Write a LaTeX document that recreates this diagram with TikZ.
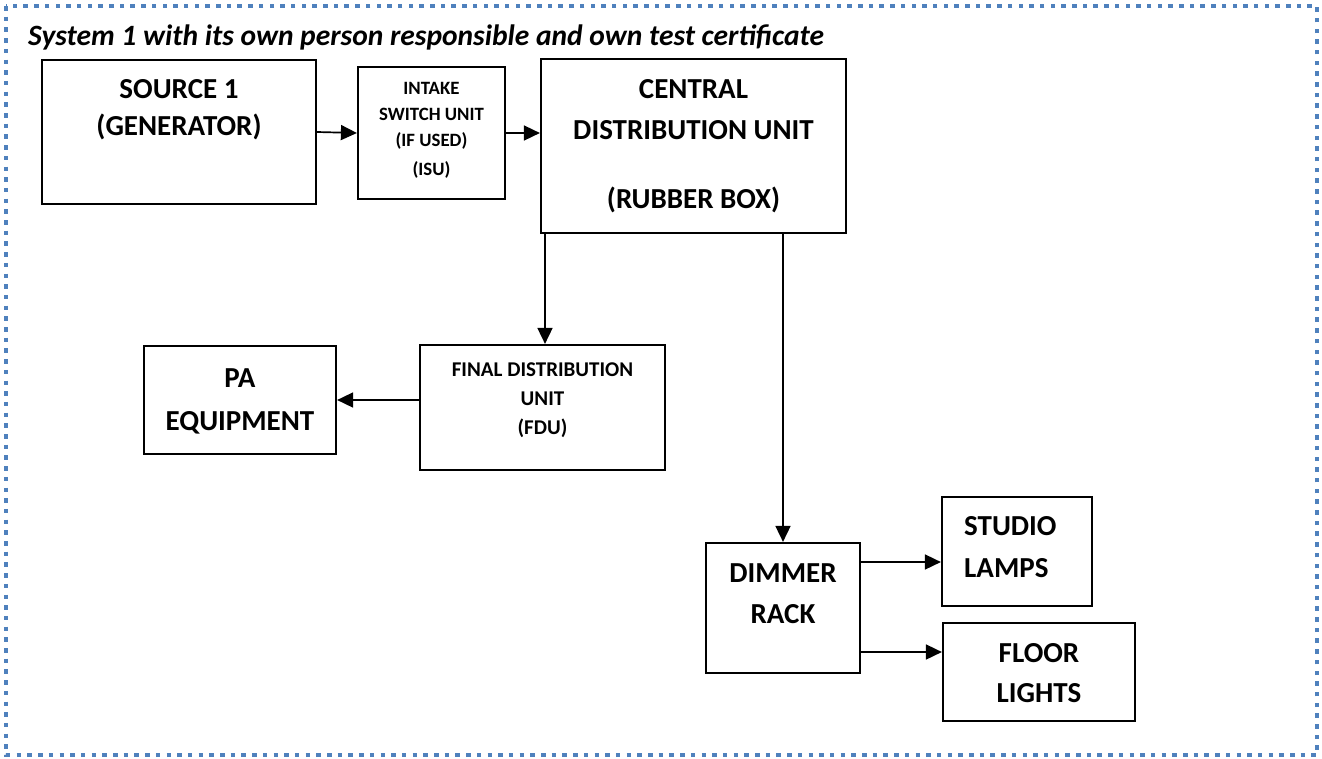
\documentclass[tikz,border=0pt]{standalone}
\usepackage{fontspec}
\setmainfont{Carlito}
\usetikzlibrary{arrows.meta,calc}
\definecolor{frameblue}{RGB}{79,129,189}
\tikzset{
  unitbox/.style={draw=black, line width=2.2pt, inner sep=0pt, rectangle},
  bigtxt/.style={font=\bfseries\fontsize{29}{41}\selectfont, align=center, inner sep=0pt},
  smalltxt/.style={font=\bfseries\fontsize{18.8}{26}\selectfont, align=center, inner sep=0pt},
  midtxt/.style={font=\bfseries\fontsize{21}{29}\selectfont, align=center, inner sep=0pt},
  feed/.style={line width=1.7pt, -{Triangle[length=16pt,width=15pt]}},
}
\begin{document}
\begin{tikzpicture}[x=1pt,y=-1pt]
  \useasboundingbox (0,0) rectangle (1322,758);
  % dotted system boundary
  \draw[frameblue, line width=4.5pt, dash pattern=on 4.5pt off 6.2pt] (6,6) rectangle (1317,755);
  \node[anchor=base west, inner sep=0pt, font=\bfseries\itshape\fontsize{29.5}{32}\selectfont] (title) at (28,45)
    {System 1 with its own person responsible and own test certificate};

  % boxes
  \node[unitbox, minimum width=274pt, minimum height=144pt] (src) at (179,132) {};
  \node[bigtxt, font=\bfseries\fontsize{29}{37}\selectfont] (srcText) at (179,109.5) {SOURCE 1\\(GENERATOR)};

  \node[unitbox, minimum width=147pt, minimum height=132pt] (isu) at (431.5,133) {};
  \node[smalltxt] (isuText) at (431.5,130.5) {INTAKE\\SWITCH UNIT\\(IF USED)\\[3pt](ISU)};

  \node[unitbox, minimum width=305pt, minimum height=174pt] (cdu) at (693.5,146) {};
  \node[bigtxt] (cduText) at (693.5,146) {CENTRAL\\DISTRIBUTION UNIT\\[28pt](RUBBER BOX)};

  \node[unitbox, minimum width=192pt, minimum height=108pt] (pa) at (240,400) {};
  \node[bigtxt, font=\bfseries\fontsize{29}{43}\selectfont] (paText) at (240,401.5) {PA\\EQUIPMENT};

  \node[unitbox, minimum width=245pt, minimum height=125pt] (fdu) at (542.5,407.5) {};
  \node[midtxt] (fduText) at (542.5,400) {FINAL DISTRIBUTION\\UNIT\\(FDU)};

  \node[unitbox, minimum width=154pt, minimum height=130pt] (dim) at (783,608) {};
  \node[bigtxt] (dimText) at (783,594) {DIMMER\\RACK};

  \node[unitbox, minimum width=150pt, minimum height=109pt] (stu) at (1017,551.5) {};
  \node[bigtxt, align=left, anchor=west, font=\bfseries\fontsize{29}{42}\selectfont] (stuText) at (964,547.5) {STUDIO\\LAMPS};

  \node[unitbox, minimum width=192pt, minimum height=98pt] (flo) at (1039,672) {};
  \node[bigtxt, font=\bfseries\fontsize{29}{40}\selectfont] (floText) at (1039,673.5) {FLOOR\\LIGHTS};

  % feeds
  \draw[feed] (src.east) -- (isu.west);
  \draw[feed] (isu.east) -- (isu.east -| cdu.west);
  \draw[feed] ([xshift=2.5pt]fdu.north |- cdu.south) -- ([xshift=2.5pt]fdu.north);
  \draw[feed] (fdu.west |- pa.east) -- (pa.east);
  \draw[feed] (dim.north |- cdu.south) -- (dim.north);
  \draw[feed] ([yshift=46pt]dim.east) -- ([yshift=46pt]dim.east -| stu.west);
  \draw[feed] ([yshift=-44pt]dim.east) -- ([yshift=-44pt]dim.east -| flo.west);
\end{tikzpicture}
\end{document}
